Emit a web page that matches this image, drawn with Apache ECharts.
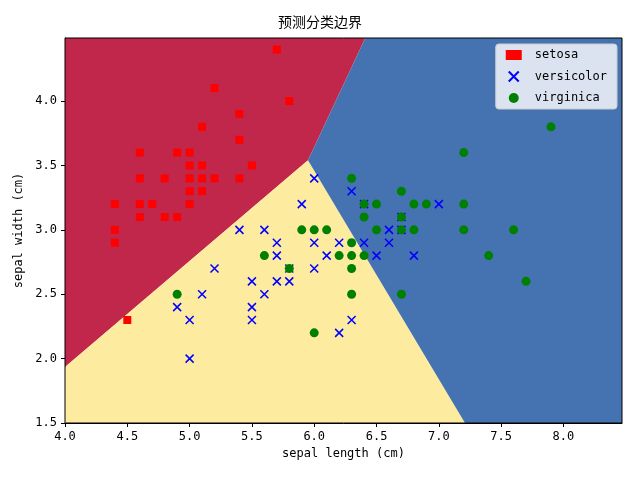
<!DOCTYPE html>
<html><head><meta charset="utf-8">
<script src="https://cdn.jsdelivr.net/npm/echarts@6/dist/echarts.min.js"></script>
<style>html,body{margin:0;padding:0;background:#fff}#c{width:640px;height:480px}</style>
</head><body><div id="c"></div>
<script>
const setosa = [[5.7,4.4],[5.2,4.1],[5.8,4.0],[5.4,3.9],[5.1,3.8],[5.4,3.7],[4.6,3.6],[4.9,3.6],[5.0,3.6],[5.0,3.5],[5.1,3.5],[5.5,3.5],[4.6,3.4],[4.8,3.4],[5.0,3.4],[5.1,3.4],[5.2,3.4],[5.4,3.4],[5.0,3.3],[5.1,3.3],[4.4,3.2],[4.6,3.2],[4.7,3.2],[5.0,3.2],[4.6,3.1],[4.8,3.1],[4.9,3.1],[4.4,3.0],[4.4,2.9],[4.5,2.3]];
const versicolor = [[6.0,3.4],[6.3,3.3],[5.9,3.2],[6.4,3.2],[7.0,3.2],[6.7,3.1],[5.4,3.0],[5.6,3.0],[6.6,3.0],[6.7,3.0],[5.7,2.9],[6.0,2.9],[6.2,2.9],[6.4,2.9],[6.6,2.9],[5.7,2.8],[6.1,2.8],[6.5,2.8],[6.8,2.8],[5.2,2.7],[5.8,2.7],[6.0,2.7],[5.5,2.6],[5.7,2.6],[5.8,2.6],[5.1,2.5],[5.6,2.5],[4.9,2.4],[5.5,2.4],[5.0,2.3],[5.5,2.3],[6.3,2.3],[6.2,2.2],[5.0,2.0]];
const virginica = [[7.9,3.8],[7.2,3.6],[6.3,3.4],[6.7,3.3],[6.4,3.2],[6.5,3.2],[6.8,3.2],[6.9,3.2],[7.2,3.2],[6.4,3.1],[6.7,3.1],[5.9,3.0],[6.0,3.0],[6.1,3.0],[6.5,3.0],[6.7,3.0],[6.8,3.0],[7.2,3.0],[7.6,3.0],[6.3,2.9],[5.6,2.8],[6.2,2.8],[6.3,2.8],[6.4,2.8],[7.4,2.8],[5.8,2.7],[6.3,2.7],[7.7,2.6],[4.9,2.5],[6.3,2.5],[6.7,2.5],[6.0,2.2]];
const regionSetosa = [[4.0,1.935],[5.95,3.54],[6.41,4.49],[4.0,4.49]];
const regionVersicolor = [[4.0,1.5],[4.0,1.935],[5.95,3.54],[7.21,1.5]];
const regionVirginica = [[5.95,3.54],[6.41,4.49],[8.47,4.49],[8.47,1.5],[7.21,1.5]];

function region(poly, color){
  return {type:'custom', silent:true, z:1, data:[0],
    renderItem:(p,api)=>({type:'polygon', shape:{points:poly.map(pt=>api.coord(pt))}, style:{fill:color}})};
}
const font = 'DejaVu Sans Mono';
const chart = echarts.init(document.getElementById('c'));
chart.setOption({
  animation:false,
  title:{text:'预测分类边界', left:'center', top:10, textStyle:{fontFamily:'Noto Sans CJK SC', fontSize:14, fontWeight:'normal', color:'#000'}},
  grid:{left:65, right:18, top:38, bottom:57, show:true, borderColor:'#000', borderWidth:1, z:10},
  xAxis:{type:'value', min:4.0, max:8.47, interval:0.5, name:'sepal length (cm)', nameLocation:'middle', nameGap:24,
    nameTextStyle:{fontFamily:font, fontSize:12, color:'#000'},
    axisLine:{lineStyle:{color:'#000'}}, axisTick:{lineStyle:{color:'#000'}, length:4},
    axisLabel:{color:'#000', fontFamily:font, fontSize:12, showMaxLabel:false, formatter:v=>v.toFixed(1)}, splitLine:{show:false}},
  yAxis:{type:'value', min:1.5, max:4.49, interval:0.5, name:'sepal width (cm)', nameLocation:'middle', nameGap:38,
    nameTextStyle:{fontFamily:font, fontSize:12, color:'#000'},
    axisLine:{show:true, lineStyle:{color:'#000'}}, axisTick:{show:true, lineStyle:{color:'#000'}, length:4},
    axisLabel:{color:'#000', fontFamily:font, fontSize:12, showMaxLabel:false, formatter:v=>v.toFixed(1)}, splitLine:{show:false}},
  legend:{right:23, top:44, orient:'vertical', itemGap:8, itemWidth:16, itemHeight:10,
    backgroundColor:'rgba(255,255,255,0.8)', borderColor:'#ccc', borderWidth:1, borderRadius:3, padding:[5,10],
    textStyle:{fontFamily:font, fontSize:12, color:'#000', padding:[0,0,0,8]},
    data:['setosa','versicolor','virginica']},
  series:[
    region(regionSetosa,'#C0274A'),
    region(regionVersicolor,'#FDEBA0'),
    region(regionVirginica,'#4572B0'),
    {name:'setosa', type:'scatter', z:5, data:setosa, symbol:'rect', symbolSize:8, itemStyle:{color:'#FF0000', opacity:1}},
    {name:'versicolor', type:'scatter', z:5, data:versicolor, symbol:'path://M0,0L10,10M10,0L0,10', symbolSize:8,
      itemStyle:{color:'none', borderColor:'#0000FF', borderWidth:1.5, opacity:1}},
    {name:'virginica', type:'scatter', z:5, data:virginica, symbol:'circle', symbolSize:9, itemStyle:{color:'#008000', opacity:1}}
  ]
});
</script></body></html>
